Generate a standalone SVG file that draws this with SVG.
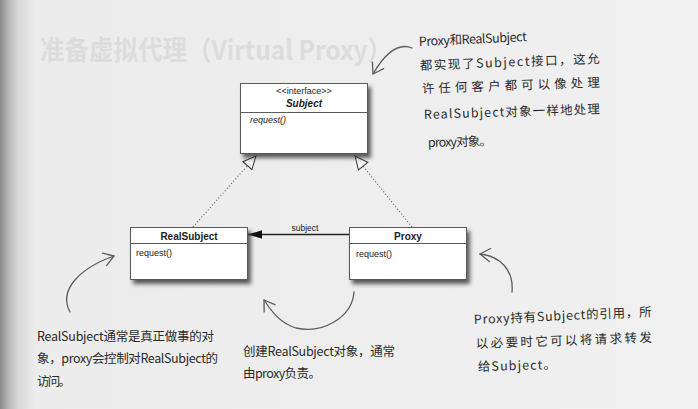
<svg xmlns="http://www.w3.org/2000/svg" width="698" height="409" viewBox="0 0 698 409">
  <style>
    .box { fill: #ffffff; stroke: #5a5a5a; stroke-width: 1; }
    .rule { stroke: #5a5a5a; stroke-width: 1; }
    .uml { font-family: "Liberation Sans Narrow", "Liberation Sans", Arial, sans-serif; fill: #222; }
    .stereo { font-size: 9px; text-anchor: middle; }
    .cls { font-size: 10px; font-weight: bold; text-anchor: middle; }
    .op { font-size: 9px; }
    .dots { fill: none; stroke: #555; stroke-width: 1.1; stroke-dasharray: 1 2.2; }
    .assoc { fill: none; stroke: #222; stroke-width: 1.4; }
    .pen { fill: none; stroke: #5c5c5c; stroke-width: 1.3; stroke-linecap: round; }
    .hand { font-family: "Noto Sans CJK SC", "Noto Sans", sans-serif; font-size: 12.5px; fill: #2b2b2b; }
    .ghost { font-family: "Noto Sans CJK SC", "Liberation Sans", sans-serif; font-size: 27px; font-weight: bold; fill: #dcdcdc; }
  </style>
  <defs>
    <linearGradient id="paper" x1="0" y1="0" x2="1" y2="0">
      <stop offset="0" stop-color="#8a8a8a"/>
      <stop offset="0.01" stop-color="#b0b0b0"/>
      <stop offset="0.025" stop-color="#d6d6d6"/>
      <stop offset="0.05" stop-color="#ececec"/>
      <stop offset="1" stop-color="#f0f0f0"/>
    </linearGradient>
    <filter id="shadow" x="-10%" y="-10%" width="130%" height="140%">
      <feGaussianBlur in="SourceAlpha" stdDeviation="2"/>
      <feOffset dx="3" dy="4" result="b"/>
      <feFlood flood-color="#333" flood-opacity="0.8"/>
      <feComposite in2="b" operator="in"/>
      <feMerge><feMergeNode/><feMergeNode in="SourceGraphic"/></feMerge>
    </filter>
    <!-- hollow triangle for interface realization -->
    <marker id="realize" markerUnits="userSpaceOnUse" viewBox="-14 -7 15 14" refX="0" refY="0" markerWidth="15" markerHeight="14" orient="auto">
      <path d="M0,0 L-13,-6 L-13,6 Z" fill="#f6f6f6" stroke="#333" stroke-width="1"/>
    </marker>
    <!-- filled head for navigable association -->
    <marker id="nav" markerUnits="userSpaceOnUse" viewBox="-15 -5 16 10" refX="0" refY="0" markerWidth="16" markerHeight="10" orient="auto">
      <path d="M0,0 L-14,-4.2 L-14,4.2 Z" fill="#111"/>
    </marker>
    <!-- open pen-drawn arrowhead for the notes -->
    <marker id="penhead" markerUnits="userSpaceOnUse" viewBox="-12 -8 14 16" refX="0" refY="0" markerWidth="14" markerHeight="16" orient="auto">
      <path d="M-10,-6.5 L0,0 L-10,6.5" fill="none" stroke="#5c5c5c" stroke-width="1.3" stroke-linecap="round" stroke-linejoin="round"/>
    </marker>
  </defs>

  <!-- paper -->
  <rect x="0" y="0" width="698" height="409" fill="url(#paper)"/>
  <text class="ghost" x="40" y="60" textLength="352" lengthAdjust="spacingAndGlyphs">准备虚拟代理（Virtual Proxy）</text>

  <!-- connectors -->
  <g id="connectors">
    <path class="dots" d="M193,227 L256,156" marker-end="url(#realize)"/>
    <path class="dots" d="M412,227 L355,156" marker-end="url(#realize)"/>
    <path class="assoc" d="M349,234.5 L248,234.5" marker-end="url(#nav)"/>
    <text class="uml" x="305" y="231" font-size="8.5" text-anchor="middle">subject</text>
  </g>

  <!-- interface -->
  <g id="subject">
    <rect class="box" x="240.5" y="83.5" width="127" height="70" filter="url(#shadow)"/>
    <line class="rule" x1="240.5" y1="112.5" x2="367.5" y2="112.5"/>
    <text class="uml stereo" x="304" y="94">&lt;&lt;interface&gt;&gt;</text>
    <text class="uml cls" x="304" y="106.5" font-style="italic" font-size="11">Subject</text>
    <text class="uml op" x="250" y="123" font-style="italic">request()</text>
  </g>

  <g id="realsubject">
    <rect class="box" x="130.5" y="227.5" width="117" height="52" filter="url(#shadow)"/>
    <line class="rule" x1="130.5" y1="243.5" x2="247.5" y2="243.5"/>
    <text class="uml cls" x="189" y="240">RealSubject</text>
    <text class="uml op" x="136" y="256">request()</text>
  </g>

  <g id="proxy">
    <rect class="box" x="349.5" y="227.5" width="117" height="52" filter="url(#shadow)"/>
    <line class="rule" x1="349.5" y1="243.5" x2="466.5" y2="243.5"/>
    <text class="uml cls" x="408" y="240">Proxy</text>
    <text class="uml op" x="356" y="257">request()</text>
  </g>

  <!-- note: both classes implement Subject -->
  <g id="note-interface">
    <path class="pen" d="M412,48 C400,43 387,50 373,74" marker-end="url(#penhead)"/>
    <text class="hand" x="419" y="46" transform="rotate(-2.6 419 46)" textLength="108" lengthAdjust="spacing">Proxy和RealSubject</text>
    <text class="hand" x="420" y="70" transform="rotate(-2.2 420 70)" textLength="180" lengthAdjust="spacing">都实现了Subject接口，这允</text>
    <text class="hand" x="422" y="93" transform="rotate(-2 422 93)" textLength="178" lengthAdjust="spacing">许任何客户都可以像处理</text>
    <text class="hand" x="424" y="119" transform="rotate(-1.8 424 119)" textLength="176" lengthAdjust="spacing">RealSubject对象一样地处理</text>
    <text class="hand" x="428" y="147" transform="rotate(-1.5 428 147)" textLength="64" lengthAdjust="spacing">proxy对象。</text>
  </g>

  <!-- note: the real worker -->
  <g id="note-real">
    <path class="pen" d="M70,312 C58,290 80,268 114,256" marker-end="url(#penhead)"/>
    <text class="hand" x="37" y="341" textLength="177" lengthAdjust="spacing">RealSubject通常是真正做事的对</text>
    <text class="hand" x="37" y="363" textLength="181" lengthAdjust="spacing">象，proxy会控制对RealSubject的</text>
    <text class="hand" x="37" y="386" textLength="34" lengthAdjust="spacing">访问。</text>
  </g>

  <!-- note: creation -->
  <g id="note-create">
    <path class="pen" d="M354,292 C352,318 322,334 296,328 C280,323 272,312 264,300" marker-end="url(#penhead)"/>
    <text class="hand" x="243" y="356" textLength="152" lengthAdjust="spacing">创建RealSubject对象，通常</text>
    <text class="hand" x="243" y="378" textLength="78" lengthAdjust="spacing">由proxy负责。</text>
  </g>

  <!-- note: forwarding -->
  <g id="note-proxy">
    <path class="pen" d="M512,292 C514,270 500,256 480,254" marker-end="url(#penhead)"/>
    <text class="hand" x="474" y="324" transform="rotate(-2.5 474 324)" textLength="178" lengthAdjust="spacing">Proxy持有Subject的引用，所</text>
    <text class="hand" x="476" y="348" transform="rotate(-2 476 348)" textLength="176" lengthAdjust="spacing">以必要时它可以将请求转发</text>
    <text class="hand" x="478" y="371" transform="rotate(-1.5 478 371)" textLength="78" lengthAdjust="spacing">给Subject。</text>
  </g>
</svg>
